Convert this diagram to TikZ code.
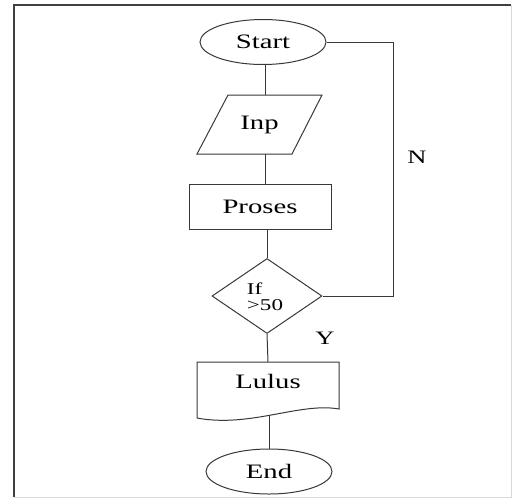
\documentclass[tikz,border=0pt]{standalone}
\usepackage{fontspec}
\setmainfont{Liberation Serif}[FakeStretch=1.4]
\usetikzlibrary{shapes.geometric}
\begin{document}
\begin{tikzpicture}[x=1pt,y=-1pt,
  ln/.style={draw=black!78, line width=1pt},
  term/.style={ellipse, ln, minimum width=126pt, minimum height=45pt, inner sep=0pt, font=\fontsize{20.5}{22}\selectfont},
  txt/.style={inner sep=0pt, font=\fontsize{20.5}{22}\selectfont},
  dec/.style={diamond, ln, minimum width=110pt, minimum height=75pt, inner sep=0pt},
  lbl/.style={inner sep=0pt, font=\fontsize{19}{21}\selectfont}]
\useasboundingbox (0,0) rectangle (513,498);
% outer frame
\draw[black!75, line width=1.3pt] (14,497) -- (14,5) -- (511,5);
\draw[black!15, line width=1pt] (511,5) -- (511,497) -- (14,497);
% nodes
\node[term] (start) at (263,42) {Start};
\node[txt, minimum width=125pt, minimum height=59pt] (inp) at (259.5,124.5) {Inp};
\draw[ln] (228,95) -- (322,95) -- (292,154) -- (197,154) -- cycle;
\node[txt, ln, minimum width=142pt, minimum height=45pt] (proses) at (260,206.5) {Proses};
\node[dec] (dec) at (267,296) {};
\node[inner sep=0pt, align=left, font=\fontsize{16.5}{18}\selectfont] (dectxt) at (265,297) {If\\[-2pt]{>}50};
\node[txt, minimum width=142pt, minimum height=38pt] (lulus) at (268,381) {Lulus};
\draw[ln] (197,362) -- (339,362) -- (339,409) .. controls (300,402) and (250,428) .. (197,418) -- cycle;
\coordinate (lulusB) at (269,416);
\node[term] (end) at (269,471.5) {End};
% connectors
\draw[ln] (265.5,64) -- (265.5,95);
\draw[ln] (265.5,154) -- (265.5,184);
\draw[ln] (267,229) -- (dec.north);
\draw[ln] (dec.south) -- (268,362);
\draw[ln] (lulusB) -- (end.north);
\coordinate (c1) at (393,42);
\draw[ln] (start.east) -- (c1) -- (c1 |- dec.east) -- (dec.east);
% labels
\node[lbl] (n) at (417,157) {N};
\node[lbl] (y) at (325,338) {Y};
\end{tikzpicture}
\end{document}
